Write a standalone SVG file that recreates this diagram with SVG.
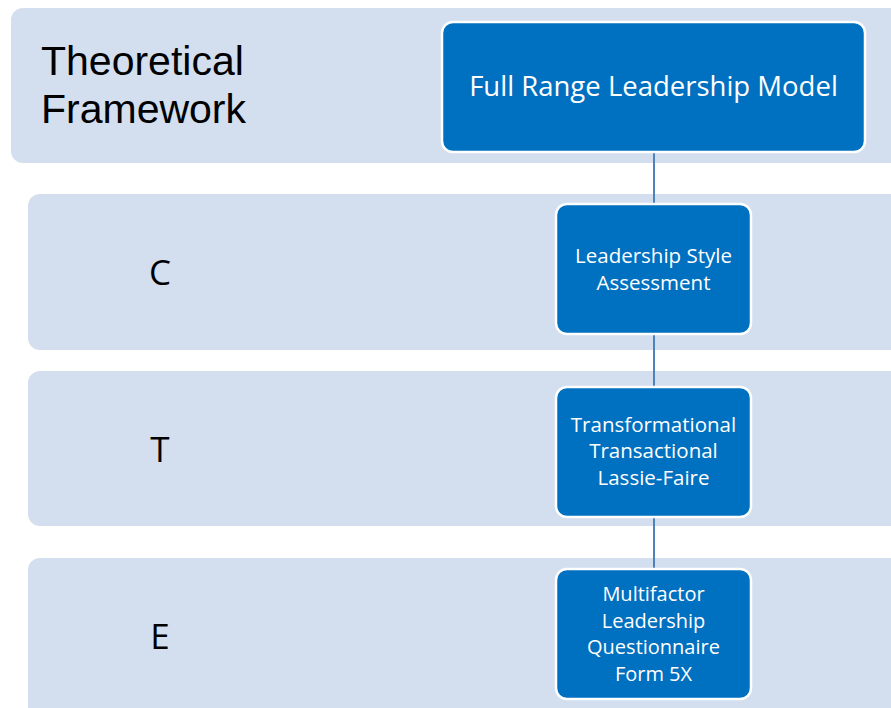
<svg xmlns="http://www.w3.org/2000/svg" width="891" height="708" viewBox="0 0 891 708">
  <style>
    .band { fill: #D3DEEF; }
    .node rect { fill: #0070C0; stroke: #FFFFFF; stroke-width: 2.5; }
    .node text { fill: #FFFFFF; font-family: "Open Sans", "Liberation Sans", sans-serif; text-anchor: middle; }
    .label { fill: #000000; font-family: "Open Sans", "Liberation Sans", sans-serif; }
    .title { fill: #000000; font-family: "Liberation Sans", Arial, sans-serif; font-size: 41px; }
    .conn line { stroke: #4F81BD; stroke-width: 2; }
  </style>
  <rect width="891" height="708" fill="#FFFFFF"/>

  <!-- horizontal bands -->
  <g id="band-framework">
    <rect class="band" x="11" y="8" width="900" height="155" rx="12"/>
    <text class="title" x="41" y="75">Theoretical</text>
    <text class="title" x="41" y="123">Framework</text>
  </g>
  <g id="band-c">
    <rect class="band" x="28" y="194" width="900" height="156" rx="12"/>
    <text class="label" x="160" y="285" font-size="35" text-anchor="middle">C</text>
  </g>
  <g id="band-t">
    <rect class="band" x="28" y="371" width="900" height="155" rx="12"/>
    <text class="label" x="160" y="462" font-size="35" text-anchor="middle">T</text>
  </g>
  <g id="band-e">
    <rect class="band" x="28" y="558" width="900" height="170" rx="12"/>
    <text class="label" x="160" y="649" font-size="35" text-anchor="middle">E</text>
  </g>

  <!-- connectors -->
  <g id="connectors" class="conn">
    <line x1="654" y1="152" x2="654" y2="205"/>
    <line x1="654" y1="334" x2="654" y2="388"/>
    <line x1="654" y1="517" x2="654" y2="570"/>
  </g>

  <!-- nodes -->
  <g id="node-frlm" class="node">
    <rect x="442" y="22" width="423" height="130" rx="11"/>
    <text x="653.5" y="96" font-size="27.5">Full Range Leadership Model</text>
  </g>
  <g id="node-assessment" class="node">
    <rect x="556" y="204" width="195" height="130" rx="11"/>
    <text x="653.5" y="263" font-size="20.5">Leadership Style</text>
    <text x="653.5" y="290" font-size="20.5">Assessment</text>
  </g>
  <g id="node-styles" class="node">
    <rect x="556" y="387" width="195" height="130" rx="11"/>
    <text x="653.5" y="432" font-size="20.5">Transformational</text>
    <text x="653.5" y="458" font-size="20.5">Transactional</text>
    <text x="653.5" y="485" font-size="20.5">Lassie-Faire</text>
  </g>
  <g id="node-mlq" class="node">
    <rect x="556" y="569" width="195" height="130" rx="11"/>
    <text x="653.5" y="601" font-size="20">Multifactor</text>
    <text x="653.5" y="628" font-size="20">Leadership</text>
    <text x="653.5" y="654" font-size="20">Questionnaire</text>
    <text x="653.5" y="681" font-size="20">Form 5X</text>
  </g>
</svg>
